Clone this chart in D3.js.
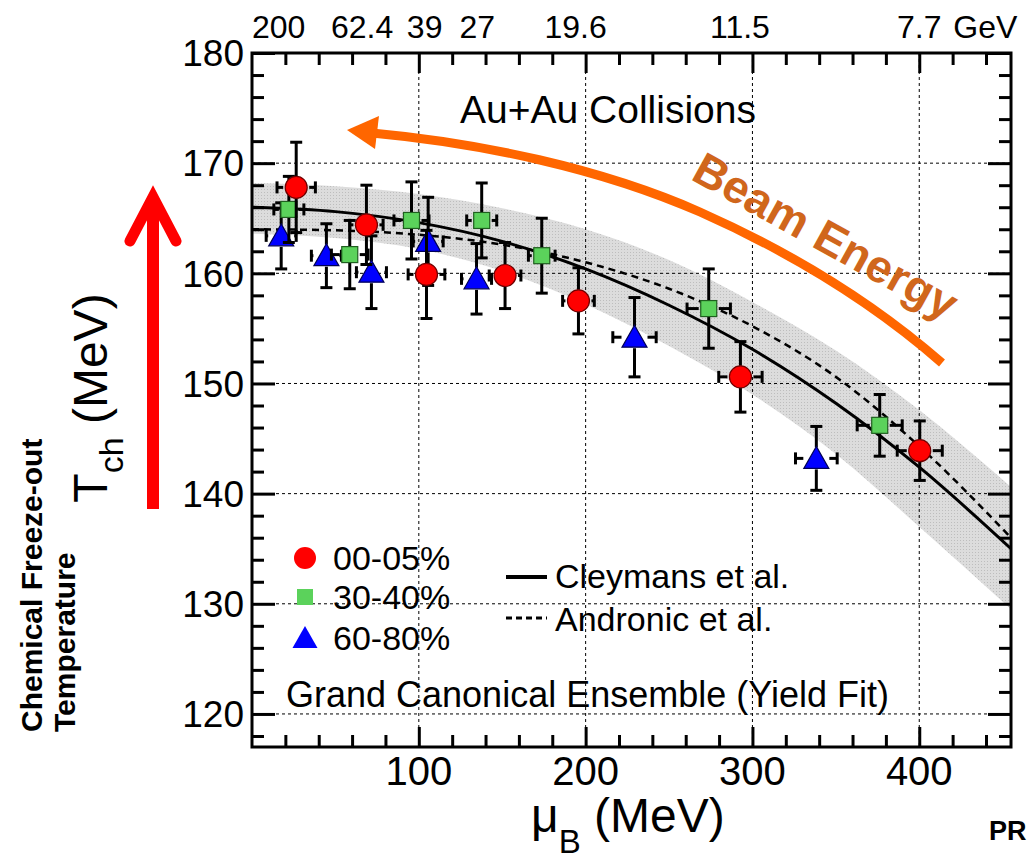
<!DOCTYPE html>
<head>
<meta charset="utf-8">
<title>Chemical freeze-out temperature vs muB</title>
<script src="https://d3js.org/d3.v7.min.js"></script>
<style>
  body { margin: 0; background: #fff; }
  text { font-family: "Liberation Sans", Arial, Helvetica, sans-serif; fill: #000; }
  .axis path { display: none; }
  .axis line { stroke: #000; stroke-width: 3; }
  .grid line { stroke: #000; stroke-width: 1; stroke-dasharray: 3,3; }
</style>
</head>
<body>
<svg width="1030" height="863"></svg>
<script>
// ---- data ----
var muGrid    = [0, 50, 100, 150, 200, 250, 300, 350, 400, 455];
var cleymans  = [166.0, 165.6, 164.6, 162.9, 160.4, 157.1, 153.1, 148.2, 142.4, 135.0];
var andronic  = [164.0, 163.9, 163.5, 162.6, 161.0, 158.6, 155.2, 150.6, 144.3, 136.0];
var bandHigh  = [168.2, 167.9, 167.2, 165.9, 164.0, 161.2, 157.4, 153.0, 147.6, 140.6];
var bandLow   = [163.6, 163.2, 162.2, 160.2, 157.2, 153.4, 149.0, 143.6, 137.0, 129.5];

var mu00  = [26.5, 68.6, 104.6, 151.7, 195.7, 292.8, 400.3];
var T00   = [167.8, 164.4, 159.9, 159.8, 157.5, 150.6, 143.9];
var dT00  = [4.1, 3.6, 4.0, 3.0, 3.0, 3.2, 2.7];
var dmu00 = [11.5, 10, 11, 9.5, 9.5, 13, 13.5];

var mu30  = [22.1, 58.6, 95.6, 137.7, 173.7, 273.8, 376.3];
var T30   = [165.8, 161.7, 164.8, 164.8, 161.6, 156.8, 146.2];
var dT30  = [3.0, 3.1, 3.5, 3.4, 3.4, 3.6, 2.8];
var dmu30 = [9, 11, 10.5, 9, 8, 13, 13.5];

var mu60  = [17.5, 44.6, 71.6, 105.6, 134.6, 229.3, 338.3];
var T60   = [163.4, 161.6, 160.1, 162.9, 159.5, 154.2, 143.2];
var dT60  = [3.0, 2.9, 3.3, 4.0, 3.2, 3.6, 2.9];
var dmu60 = [9, 9, 9, 9, 9, 13, 12.5];

var energyLabels = ["200", "62.4", "39", "27", "19.6", "11.5", "7.7"];
var energyPos    = [16, 66, 103.5, 135, 194, 292.5, 400];

var xMajor = [100, 200, 300, 400];
var yMajor = [120, 130, 140, 150, 160, 170, 180];

var svg = d3.select("svg");
var plot = { left: 252, right: 1011, top: 53, bottom: 747 };

var x = d3.scaleLinear().domain([0, 455]).range([plot.left, plot.right]);
var y = d3.scaleLinear().domain([117, 180]).range([plot.bottom, plot.top]);

var defs = svg.append("defs");
defs.append("clipPath").attr("id", "clip")
  .append("rect").attr("x", plot.left).attr("y", plot.top)
  .attr("width", plot.right - plot.left).attr("height", plot.bottom - plot.top);
// dotted grey texture of the band
var pat = defs.append("pattern").attr("id", "dots").attr("patternUnits", "userSpaceOnUse")
  .attr("width", 3).attr("height", 3);
pat.append("rect").attr("width", 3).attr("height", 3).attr("fill", "#dcdcdc");
pat.append("rect").attr("width", 1).attr("height", 1).attr("fill", "#bdbdbd");

var g = svg.append("g").attr("clip-path", "url(#clip)");

// band
var band = muGrid.map(function(m, i) { return { mu: m, hi: bandHigh[i], lo: bandLow[i] }; });
g.append("path").datum(band)
  .attr("fill", "url(#dots)")
  .attr("d", d3.area().curve(d3.curveMonotoneX)
    .x(function(d) { return x(d.mu); })
    .y0(function(d) { return y(d.lo); })
    .y1(function(d) { return y(d.hi); }));

// grid
var grid = g.append("g").attr("class", "grid");
grid.selectAll(".gx").data(xMajor).enter().append("line")
  .attr("x1", function(d) { return x(d); }).attr("x2", function(d) { return x(d); })
  .attr("y1", plot.top).attr("y2", plot.bottom);
grid.selectAll(".gy").data(yMajor.slice(0, -1)).enter().append("line")
  .attr("y1", function(d) { return y(d); }).attr("y2", function(d) { return y(d); })
  .attr("x1", plot.left).attr("x2", plot.right);

// model curves
var line = d3.line().curve(d3.curveMonotoneX)
  .x(function(d) { return x(d[0]); }).y(function(d) { return y(d[1]); });
g.append("path").datum(muGrid.map(function(m, i) { return [m, andronic[i]]; }))
  .attr("fill", "none").attr("stroke", "#000").attr("stroke-width", 2.5)
  .attr("stroke-dasharray", "7,5").attr("d", line);
g.append("path").datum(muGrid.map(function(m, i) { return [m, cleymans[i]]; }))
  .attr("fill", "none").attr("stroke", "#000").attr("stroke-width", 3).attr("d", line);

// data points
var series = [
  { mu: mu60, T: T60, dT: dT60, dmu: dmu60, shape: "tri", fill: "#0000ff", stroke: "#000055", half: 11 },
  { mu: mu30, T: T30, dT: dT30, dmu: dmu30, shape: "sq",  fill: "#5bd25b", stroke: "#1f5f1f", half: 8 },
  { mu: mu00, T: T00, dT: dT00, dmu: dmu00, shape: "circ", fill: "#ff0000", stroke: "#700000", half: 11 }
];

function drawMarker(sel, shape, fill, stroke, sw) {
  if (shape === "circ") {
    sel.append("circle").attr("r", 11).attr("fill", fill).attr("stroke", stroke).attr("stroke-width", sw);
  } else if (shape === "sq") {
    sel.append("rect").attr("x", -8).attr("y", -8).attr("width", 16).attr("height", 16)
      .attr("fill", fill).attr("stroke", stroke).attr("stroke-width", sw);
  } else {
    sel.append("path").attr("d", "M0,-12L12.5,10L-12.5,10Z")
      .attr("fill", fill).attr("stroke", stroke).attr("stroke-width", sw);
  }
}

var pts = svg.append("g");
series.forEach(function(s) {
  s.mu.forEach(function(m, i) {
    var cx = x(m), cy = y(s.T[i]);
    var yt = y(s.T[i] + s.dT[i]), yb = y(s.T[i] - s.dT[i]);
    var xl = x(m - s.dmu[i]), xr = x(m + s.dmu[i]);
    var e = pts.append("g").attr("stroke", "#000").attr("stroke-width", 3);
    e.append("line").attr("x1", cx).attr("x2", cx).attr("y1", cy - s.half).attr("y2", yt);
    e.append("line").attr("x1", cx).attr("x2", cx).attr("y1", cy + s.half).attr("y2", yb);
    e.append("line").attr("x1", cx - 6).attr("x2", cx + 6).attr("y1", yt).attr("y2", yt);
    e.append("line").attr("x1", cx - 6).attr("x2", cx + 6).attr("y1", yb).attr("y2", yb);
    e.append("line").attr("y1", cy).attr("y2", cy).attr("x1", cx - s.half - 2).attr("x2", xl);
    e.append("line").attr("y1", cy).attr("y2", cy).attr("x1", cx + s.half + 2).attr("x2", xr);
    e.append("line").attr("x1", xl).attr("x2", xl).attr("y1", cy - 6).attr("y2", cy + 6);
    e.append("line").attr("x1", xr).attr("x2", xr).attr("y1", cy - 6).attr("y2", cy + 6);
    var mk = pts.append("g").attr("transform", "translate(" + cx + "," + cy + ")");
    drawMarker(mk, s.shape, s.fill, s.stroke, 1.2);
  });
});

// axes (ticks inward on all four sides)
var xMinor = d3.range(20, 455, 20).filter(function(v) { return v % 100 !== 0; });
var yMinor = d3.range(118, 180, 2).filter(function(v) { return v % 10 !== 0; });

function addAxis(axisFn, scale, vals, size, tf) {
  svg.append("g").attr("class", "axis").attr("transform", tf)
    .call(axisFn(scale).tickValues(vals).tickSize(size).tickFormat(""));
}
addAxis(d3.axisBottom, x, xMajor, -20, "translate(0," + plot.bottom + ")");
addAxis(d3.axisBottom, x, xMinor, -12, "translate(0," + plot.bottom + ")");
addAxis(d3.axisTop, x, xMajor, -20, "translate(0," + plot.top + ")");
addAxis(d3.axisTop, x, xMinor, -12, "translate(0," + plot.top + ")");
addAxis(d3.axisLeft, y, yMajor, -23, "translate(" + plot.left + ",0)");
addAxis(d3.axisLeft, y, yMinor, -12, "translate(" + plot.left + ",0)");
addAxis(d3.axisRight, y, yMajor, -23, "translate(" + plot.right + ",0)");
addAxis(d3.axisRight, y, yMinor, -12, "translate(" + plot.right + ",0)");

svg.append("rect").attr("x", plot.left).attr("y", plot.top)
  .attr("width", plot.right - plot.left).attr("height", plot.bottom - plot.top)
  .attr("fill", "none").attr("stroke", "#000").attr("stroke-width", 3);

// tick labels
svg.selectAll(".xl").data(xMajor).enter().append("text")
  .attr("x", function(d) { return x(d); }).attr("y", 785)
  .attr("text-anchor", "middle").style("font-size", "40px").text(function(d) { return d; });
svg.selectAll(".yl").data(yMajor).enter().append("text")
  .attr("x", 244).attr("y", function(d) { return y(d); }).attr("dy", "0.36em")
  .attr("text-anchor", "end").style("font-size", "37px").text(function(d) { return d; });

// beam energy labels on top
svg.selectAll(".el").data(energyLabels).enter().append("text")
  .attr("x", function(d, i) { return x(energyPos[i]); }).attr("y", 38)
  .attr("text-anchor", "middle").style("font-size", "32px").text(function(d) { return d; });
svg.append("text").attr("x", x(400) + 34).attr("y", 38).style("font-size", "32px").text("GeV");

// axis titles
var xt = svg.append("text").attr("x", 531).attr("y", 832).style("font-size", "48px");
xt.append("tspan").text("\u03bc");
xt.append("tspan").attr("dy", 21).style("font-size", "33px").text("B");
xt.append("tspan").attr("dy", -21).text(" (MeV)");

var yt = svg.append("text").attr("transform", "translate(107,398) rotate(-90)")
  .attr("text-anchor", "middle").style("font-size", "48px");
yt.append("tspan").text("T");
yt.append("tspan").attr("dy", 16).style("font-size", "34px").text("ch");
yt.append("tspan").attr("dy", -16).text(" (MeV)");

svg.append("text").attr("transform", "translate(42,732) rotate(-90)")
  .style("font-size", "30px").style("font-weight", "bold").text("Chemical Freeze-out");
svg.append("text").attr("transform", "translate(75,732) rotate(-90)")
  .style("font-size", "30px").style("font-weight", "bold").text("Temperature");

// red arrow
svg.append("path").attr("d", "M153,509L153,200")
  .attr("stroke", "#ff0000").attr("stroke-width", 12).attr("fill", "none");
svg.append("path").attr("d", "M130,241L153,197L176,241")
  .attr("stroke", "#ff0000").attr("stroke-width", 11).attr("fill", "none")
  .attr("stroke-linecap", "round").attr("stroke-linejoin", "miter");

// annotations
svg.append("text").attr("x", 608).attr("y", 123).attr("text-anchor", "middle")
  .style("font-size", "39px").text("Au+Au Collisions");

svg.append("path")
  .attr("d", "M372,133 C480,143 600,168 700,212 C790,252 870,300 942,363")
  .attr("fill", "none").attr("stroke", "#ff6600").attr("stroke-width", 9);
svg.append("path").attr("d", "M347,130L379,116L375,149Z").attr("fill", "#ff6600");

svg.append("text").attr("transform", "translate(818,250) rotate(29)")
  .attr("text-anchor", "middle").style("font-size", "46px").style("font-weight", "bold")
  .style("fill", "#d0661c").text("Beam Energy");

// legend
var legMarkers = [["circ", "#ff0000", 558, "00-05%"], ["sq", "#5bd25b", 597, "30-40%"], ["tri", "#0000ff", 638, "60-80%"]];
legMarkers.forEach(function(l) {
  var mk = svg.append("g").attr("transform", "translate(305," + l[2] + ")");
  drawMarker(mk, l[0], l[1], "none", 0);
  svg.append("text").attr("x", 333).attr("y", l[2]).attr("dy", "0.36em")
    .style("font-size", "34px").text(l[3]);
});

svg.append("line").attr("x1", 506).attr("x2", 547).attr("y1", 577).attr("y2", 577)
  .attr("stroke", "#000").attr("stroke-width", 4);
svg.append("text").attr("x", 555).attr("y", 588).style("font-size", "34px").text("Cleymans et al.");
svg.append("line").attr("x1", 506).attr("x2", 547).attr("y1", 618).attr("y2", 618)
  .attr("stroke", "#000").attr("stroke-width", 3).attr("stroke-dasharray", "6,4");
svg.append("text").attr("x", 555).attr("y", 631).style("font-size", "34px").text("Andronic et al.");

svg.append("text").attr("x", 286).attr("y", 707).style("font-size", "36px")
  .text("Grand Canonical Ensemble (Yield Fit)");

svg.append("text").attr("x", 989).attr("y", 840).style("font-size", "27px")
  .style("font-weight", "bold").text("PR");
</script>
</body>
</html>
